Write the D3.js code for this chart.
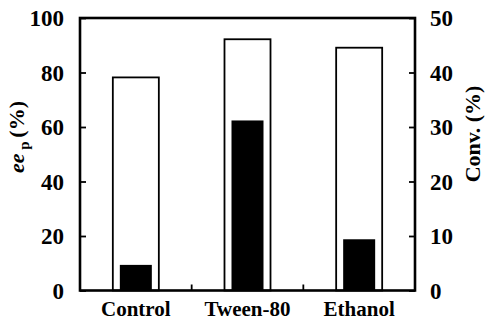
<!DOCTYPE html>
<html>
<head>
<meta charset="utf-8">
<script src="https://cdn.jsdelivr.net/npm/d3@7"></script>
<style>
  html, body { margin: 0; padding: 0; background: #fff; }
  svg { display: block; }
</style>
</head>
<body>
<script>
// Treatments and measured values
const categories = ["Control", "Tween-80", "Ethanol"];
const eeValues = [78.2, 92.2, 89.1];      // ee_p (%), left axis, open bars
const convValues = [4.7, 31.2, 9.4];      // Conv. (%), right axis, filled bars
const eeTicks = [0, 20, 40, 60, 80, 100];
const convTicks = [0, 10, 20, 30, 40, 50];

const FONT = "'Liberation Serif', 'Times New Roman', Times, 'DejaVu Serif', serif";
const W = 487, H = 323;
const plot = { left: 80, right: 415, top: 18, bottom: 290.5 };

const svg = d3.select("body").append("svg").attr("width", W).attr("height", H);

const x = d3.scaleBand().domain(categories).range([plot.left, plot.right])
  .paddingInner(0.588).paddingOuter(0.294);
const yL = d3.scaleLinear().domain([0, 100]).range([plot.bottom, plot.top]);
const yR = d3.scaleLinear().domain([0, 50]).range([plot.bottom, plot.top]);

// open bars (ee_p)
svg.append("g").selectAll("rect").data(categories).join("rect")
  .attr("x", d => x(d))
  .attr("y", (d, i) => yL(eeValues[i]))
  .attr("width", x.bandwidth())
  .attr("height", (d, i) => plot.bottom - yL(eeValues[i]))
  .attr("fill", "#fff").attr("stroke", "#000").attr("stroke-width", 1.8);

// filled bars (conversion)
const innerW = 32;
svg.append("g").selectAll("rect").data(categories).join("rect")
  .attr("x", d => x(d) + (x.bandwidth() - innerW) / 2)
  .attr("y", (d, i) => yR(convValues[i]))
  .attr("width", innerW)
  .attr("height", (d, i) => plot.bottom - yR(convValues[i]))
  .attr("fill", "#000");

// frame
svg.append("rect")
  .attr("x", plot.left).attr("y", plot.top)
  .attr("width", plot.right - plot.left).attr("height", plot.bottom - plot.top)
  .attr("fill", "none").attr("stroke", "#000").attr("stroke-width", 2.6);

function styleAxis(g) {
  g.attr("font-family", null).attr("font-size", null);
  g.select(".domain").remove();
  g.selectAll("line").attr("stroke-width", 1.8);
  g.selectAll("text")
    .style("font-family", FONT).style("font-weight", "bold")
    .style("font-size", "23px").attr("dy", "0.34em").attr("fill", "#000");
}

// left axis
svg.append("g").attr("transform", `translate(${plot.left},0)`)
  .call(d3.axisLeft(yL).tickValues(eeTicks).tickSizeInner(-6).tickSizeOuter(0).tickPadding(16))
  .call(styleAxis);

// right axis
svg.append("g").attr("transform", `translate(${plot.right},0)`)
  .call(d3.axisRight(yR).tickValues(convTicks).tickSizeInner(-6).tickSizeOuter(0).tickPadding(15))
  .call(styleAxis);

// category separators on the bottom edge
const gap = x.step() - x.bandwidth();
svg.append("g").selectAll("line").data(categories.slice(1)).join("line")
  .attr("x1", d => x(d) - gap / 2)
  .attr("x2", d => x(d) - gap / 2)
  .attr("y1", plot.bottom).attr("y2", plot.bottom - 6)
  .attr("stroke", "#000").attr("stroke-width", 1.8);

// category labels
svg.append("g").selectAll("text").data(categories).join("text")
  .attr("x", d => x(d) + x.bandwidth() / 2)
  .attr("y", 316)
  .attr("text-anchor", "middle")
  .style("font-family", FONT).style("font-weight", "bold")
  .style("font-size", "21px")
  .text(d => d);

// left axis title
const tL = svg.append("text")
  .attr("transform", "translate(24,137) rotate(-90)")
  .attr("text-anchor", "middle")
  .style("font-family", FONT).style("font-weight", "bold")
  .style("font-size", "22px");
tL.append("tspan").style("font-style", "italic").text("ee");
tL.append("tspan").attr("dy", 5).style("font-size", "15px").text(" p ");
tL.append("tspan").attr("dy", -5).text("(%)");

// right axis title
svg.append("text")
  .attr("transform", "translate(480,134) rotate(-90)")
  .attr("text-anchor", "middle")
  .style("font-family", FONT).style("font-weight", "bold")
  .style("font-size", "22px")
  .text("Conv. (%)");
</script>
</body>
</html>
